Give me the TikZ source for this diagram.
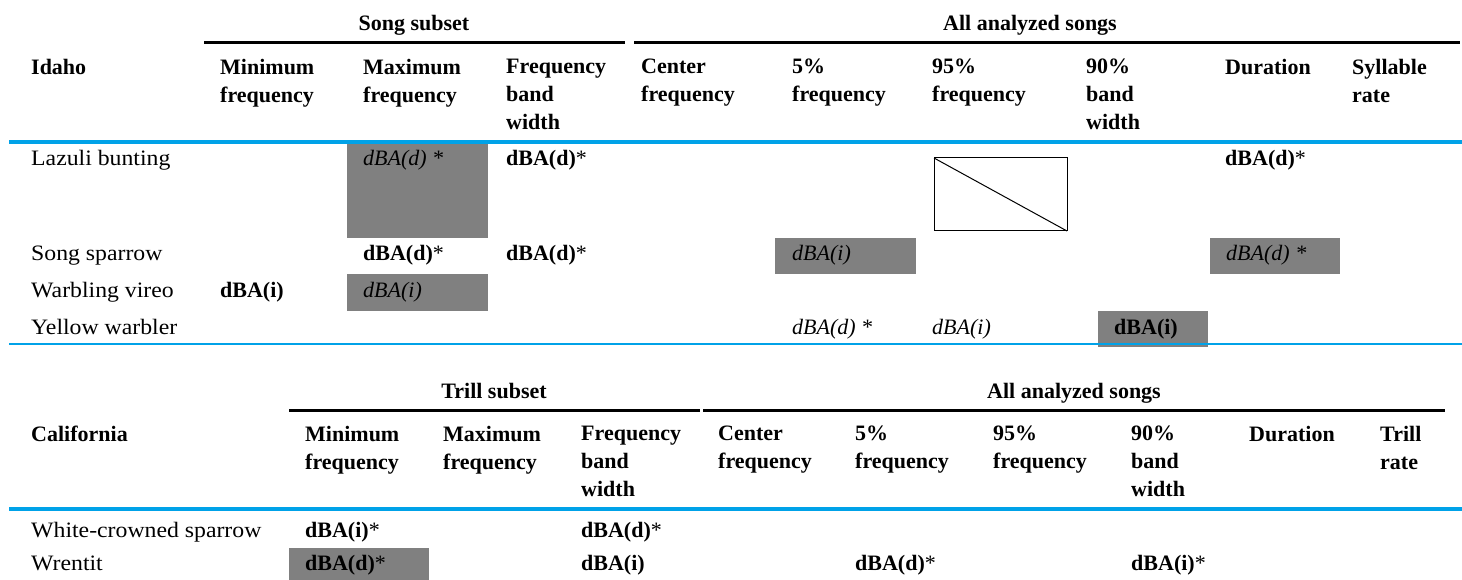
\documentclass[tikz,border=0pt]{standalone}
\usepackage{fontspec}
\setmainfont{Liberation Serif}
\newfontfamily\lblfamily[FakeStretch=1.08]{Liberation Serif}

\definecolor{tblblue}{RGB}{0,162,232}
\definecolor{cellgray}{RGB}{128,128,128}

\newcommand{\hdfont}{\fontsize{22}{28}\selectfont\bfseries}
\newcommand{\lblfont}{\lblfamily\fontsize{22}{28}\selectfont}
\newcommand{\itfont}{\fontsize{22}{28}\selectfont\itshape}
\newcommand{\sigstar}{\textmd{*}}

\begin{document}
\begin{tikzpicture}[x=1pt, y=-1pt, line cap=butt,
  colhead/.style={anchor=north west, align=left, inner sep=0pt, font=\hdfont},
  grouphead/.style={anchor=base, inner sep=0pt, font=\hdfont},
  rowlabel/.style={anchor=base west, inner sep=0pt, font=\lblfont},
  bcell/.style={anchor=base west, inner sep=0pt, font=\hdfont},
  icell/.style={anchor=base west, inner sep=0pt, font=\itfont},
  grouprule/.style={line width=3pt},
  bluerule/.style={tblblue, line width=4pt},
  shade/.style={fill=cellgray}]

\useasboundingbox (0,0) rectangle (1462,580);

% Idaho
\node[colhead] (idaho) at (31,59) {Idaho};
\node[grouphead] (songsub) at (414,31) {Song subset};
\node[grouphead] (allsongsA) at (1030,31) {All analyzed songs};
\draw[grouprule] (204,43) -- (625,43);
\draw[grouprule] (634,43) -- (1460,43);
\foreach \nm/\x/\txt in {minA/220/Minimum\\frequency, maxA/363/Maximum\\frequency,
    fbwA/506/Frequency\\band\\width, cenA/641/Center\\frequency,
    pfiveA/792/5\%\\frequency, pninefiveA/932/95\%\\frequency,
    pnineA/1086/90\%\\band\\width, durA/1225/Duration, rateA/1352/Syllable\\rate}
  \node[colhead] (\nm) at (\x,59) {\txt};

\fill[shade] (347,144) rectangle (488,238);
\fill[shade] (775,238) rectangle (916,274);
\fill[shade] (1210,238) rectangle (1340,274);
\fill[shade] (347,274) rectangle (488,311);
\fill[shade] (1098,311) rectangle (1208,347);
\draw[line width=1pt] (934,158) rectangle (1067,231);
\draw[line width=1pt] (934,158) -- (1067,231);

\draw[bluerule] (9,142) -- (1462,142);
\draw[tblblue, line width=2.5pt] (9,344) -- (1462,344);

\foreach \nm/\y/\txt in {lazuli/166/Lazuli bunting, songsp/261/Song sparrow,
    warbl/297/Warbling vireo, yellow/334/Yellow warbler}
  \node[rowlabel] (\nm) at (31,\y) {\txt};

\node[icell] (lazuli-max) at (363,166) {dBA(d) *};
\node[bcell] (lazuli-fbw) at (506,166) {dBA(d)\sigstar};
\node[bcell] (lazuli-dur) at (1225,166) {dBA(d)\sigstar};
\node[bcell] (songsp-max) at (363,261) {dBA(d)\sigstar};
\node[bcell] (songsp-fbw) at (506,261) {dBA(d)\sigstar};
\node[icell] (songsp-p5) at (792,261) {dBA(i)};
\node[icell] (songsp-dur) at (1226,261) {dBA(d) *};
\node[bcell] (warbl-min) at (220,297) {dBA(i)};
\node[icell] (warbl-max) at (363,297) {dBA(i)};
\node[icell] (yellow-p5) at (792,334) {dBA(d) *};
\node[icell] (yellow-p95) at (932,334) {dBA(i)};
\node[bcell] (yellow-p90) at (1114,334) {dBA(i)};

% California
\node[colhead] (calif) at (31,426) {California};
\node[grouphead] (trillsub) at (494,398) {Trill subset};
\node[grouphead] (allsongsB) at (1074,398) {All analyzed songs};
\draw[grouprule] (289,410) -- (700,410);
\draw[grouprule] (703,410) -- (1445,410);
\foreach \nm/\x/\txt in {minB/305/Minimum\\frequency, maxB/443/Maximum\\frequency,
    fbwB/581/Frequency\\band\\width, cenB/718/Center\\frequency,
    pfiveB/855/5\%\\frequency, pninefiveB/993/95\%\\frequency,
    pnineB/1131/90\%\\band\\width, durB/1249/Duration, rateB/1380/Trill\\rate}
  \node[colhead] (\nm) at (\x,426) {\txt};
\draw[bluerule] (9,509) -- (1462,509);

\fill[shade] (289,548) rectangle (429,580);

\foreach \nm/\y/\txt in {whitecr/537/White-crowned sparrow, wrentit/570/Wrentit}
  \node[rowlabel] (\nm) at (31,\y) {\txt};

\node[bcell] (whitecr-min) at (305,537) {dBA(i)\sigstar};
\node[bcell] (whitecr-fbw) at (581,537) {dBA(d)\sigstar};
\node[bcell] (wrentit-min) at (305,570) {dBA(d)\sigstar};
\node[bcell] (wrentit-fbw) at (581,570) {dBA(i)};
\node[bcell] (wrentit-p5) at (855,570) {dBA(d)\sigstar};
\node[bcell] (wrentit-p90) at (1131,570) {dBA(i)\sigstar};

\end{tikzpicture}
\end{document}
